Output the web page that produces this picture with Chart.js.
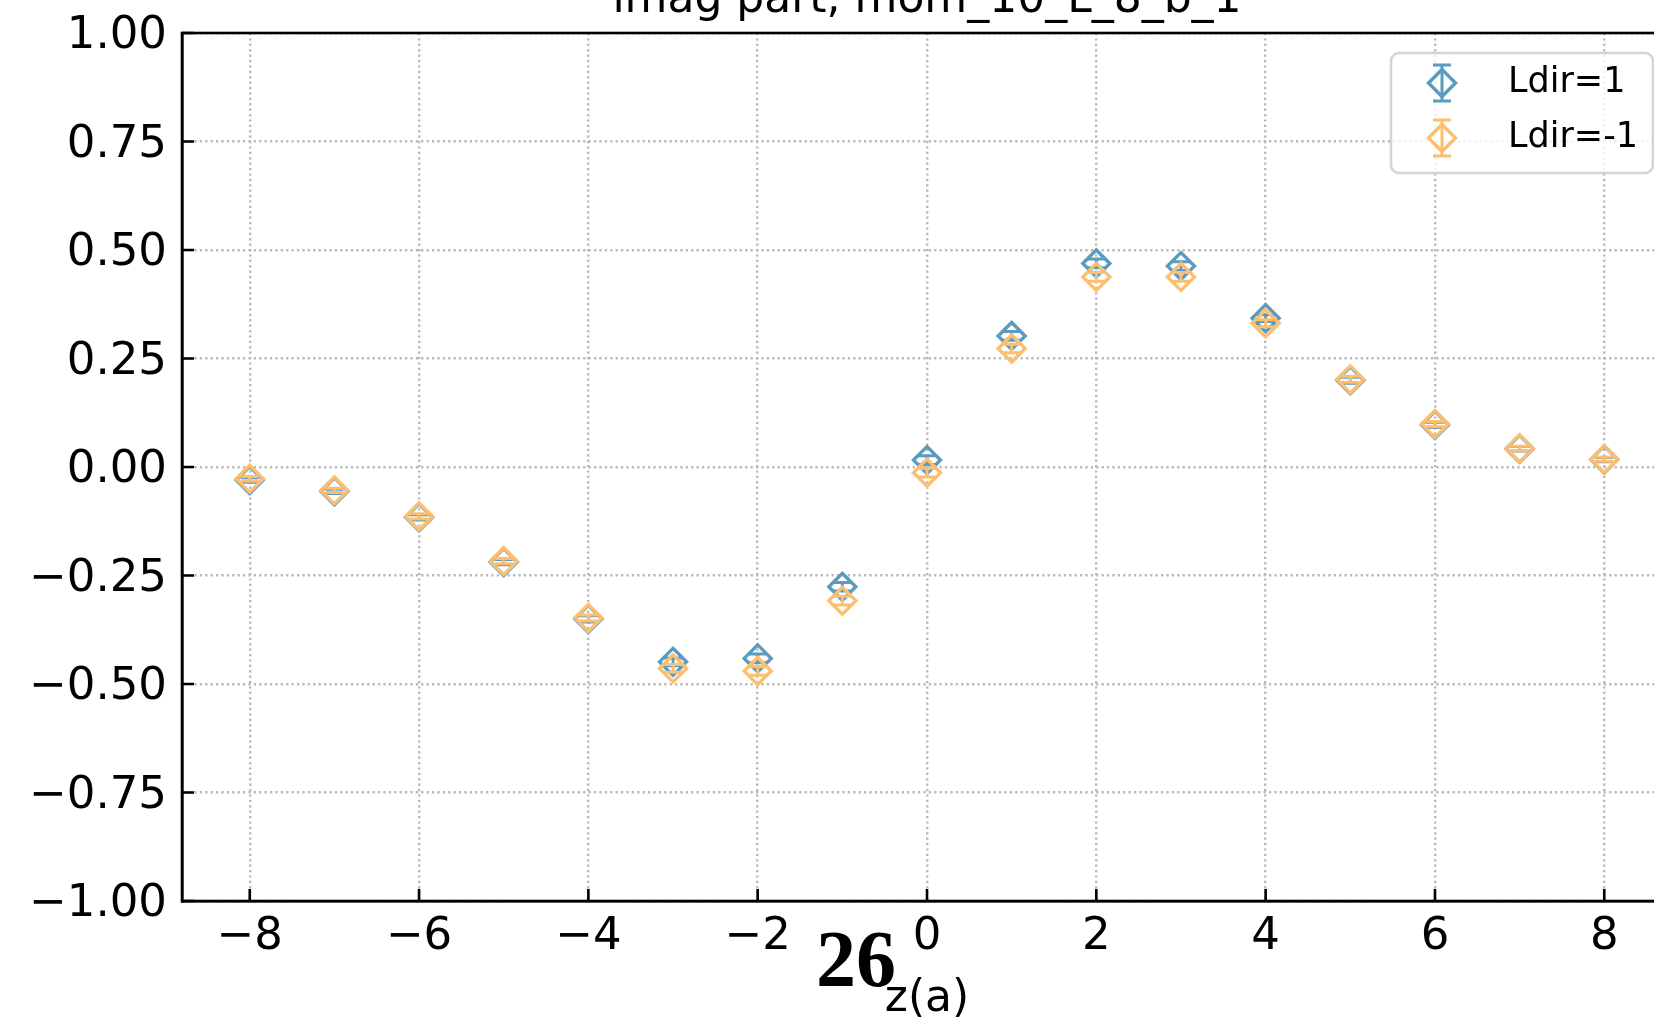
<!DOCTYPE html>
<html>
<head>
<meta charset="utf-8">
<script src="https://cdn.jsdelivr.net/npm/chart.js@4/dist/chart.umd.min.js"></script>
<style>
  html, body { margin: 0; padding: 0; background: #ffffff; overflow: hidden; width: 1654px; height: 1026px; }
  #wrap { position: absolute; left: 0; top: 0; width: 1760px; height: 1026px; }
</style>
</head>
<body>
<div id="wrap"><canvas id="c"></canvas></div>
<script>
// Separation z (lattice units)
const zValues = [-8, -7, -6, -5, -4, -3, -2, -1, 0, 1, 2, 3, 4, 5, 6, 7, 8];

// Imaginary part, Ldir = 1
const ldirPlus = [-0.030, -0.056, -0.116, -0.219, -0.350, -0.449, -0.441, -0.276, 0.016,
                  0.302, 0.469, 0.463, 0.343, 0.200, 0.097, 0.042, 0.017];
const ldirPlusErr = [0.005, 0.005, 0.006, 0.006, 0.007, 0.009, 0.010, 0.010, 0.010,
                     0.010, 0.010, 0.010, 0.008, 0.007, 0.006, 0.005, 0.005];

// Imaginary part, Ldir = -1
const ldirMinus = [-0.027, -0.054, -0.114, -0.217, -0.348, -0.464, -0.470, -0.308, -0.013,
                   0.273, 0.438, 0.438, 0.331, 0.202, 0.099, 0.043, 0.018];
const ldirMinusErr = [0.005, 0.005, 0.006, 0.006, 0.007, 0.009, 0.010, 0.010, 0.010,
                      0.010, 0.010, 0.010, 0.008, 0.007, 0.006, 0.005, 0.005];

const seriesLabels = ['Ldir=1', 'Ldir=-1'];
const seriesColors = ['#5b9bbf', '#fdbf6f'];
const xTickValues = [-8, -6, -4, -2, 0, 2, 4, 6, 8];
const yTickValues = [-1, -0.75, -0.5, -0.25, 0, 0.25, 0.5, 0.75, 1];
const chartTitle = 'imag part, mom_10_L_8_b_1';
const xAxisTitle = 'z(a)';
const pageNumber = '26';

const FONT = 'DejaVu Sans';
const MINUS = '\u2212';
const MARK_R = 13.5;
const MARK_W = 3.4;

function diamond(ctx, x, y, r) {
  ctx.beginPath();
  ctx.moveTo(x - r, y);
  ctx.lineTo(x, y - r);
  ctx.lineTo(x + r, y);
  ctx.lineTo(x, y + r);
  ctx.closePath();
  ctx.stroke();
}

function errorBar(ctx, x, yTop, yBot, cap) {
  ctx.beginPath();
  ctx.moveTo(x, yTop); ctx.lineTo(x, yBot);
  ctx.moveTo(x - cap, yTop); ctx.lineTo(x + cap, yTop);
  ctx.moveTo(x - cap, yBot); ctx.lineTo(x + cap, yBot);
  ctx.stroke();
}

// Vertical error bars with caps, drawn just before each dataset's markers
const errorBarPlugin = {
  id: 'errorBars',
  beforeDatasetDraw(chart, args) {
    const ds = chart.data.datasets[args.index];
    if (!ds.errors) return;
    const { ctx } = chart;
    const xs = chart.scales.x, ys = chart.scales.y;
    ctx.save();
    ctx.strokeStyle = ds.borderColor;
    ctx.lineWidth = 3;
    ds.data.forEach((p, i) => {
      const px = xs.getPixelForValue(p.x);
      errorBar(ctx, px, ys.getPixelForValue(p.y + ds.errors[i]), ys.getPixelForValue(p.y - ds.errors[i]), 9);
    });
    ctx.restore();
  }
};

// Nudge the y tick labels so the digits sit centred on their ticks
const yLabelShiftPlugin = {
  id: 'yLabelShift',
  beforeDraw(chart) {
    const ys = chart.scales.y;
    if (!ys || ys._shifted) return;
    const orig = ys.drawLabels;
    ys.drawLabels = function (area) {
      const ctx = this.ctx;
      ctx.save();
      ctx.translate(0, 3.5);
      orig.call(this, area);
      ctx.restore();
    };
    ys._shifted = true;
  }
};

// Full axes frame and inward-pointing tick marks
const framePlugin = {
  id: 'frame',
  afterDatasetsDraw(chart) {
    const { ctx, chartArea: a } = chart;
    const xs = chart.scales.x, ys = chart.scales.y;
    ctx.save();
    ctx.strokeStyle = '#000';
    ctx.lineWidth = 2.6;
    ctx.strokeRect(a.left, a.top, a.right - a.left, a.bottom - a.top);
    ctx.beginPath();
    xTickValues.forEach(v => {
      const px = xs.getPixelForValue(v);
      ctx.moveTo(px, a.bottom); ctx.lineTo(px, a.bottom - 12);
    });
    yTickValues.forEach(v => {
      const py = ys.getPixelForValue(v);
      ctx.moveTo(a.left, py); ctx.lineTo(a.left + 12, py);
    });
    ctx.stroke();
    ctx.restore();
  }
};

// Title, legend and page number
const decorPlugin = {
  id: 'decor',
  afterDraw(chart) {
    const { ctx, chartArea: a } = chart;
    const xs = chart.scales.x;
    ctx.save();

    // title (centred over the axes)
    ctx.fillStyle = '#000';
    ctx.font = `44px "${FONT}"`;
    ctx.textAlign = 'center';
    ctx.textBaseline = 'alphabetic';
    ctx.fillText(chartTitle, (a.left + a.right) / 2, 12);

    // legend box, upper right
    const bw = 262, bh = 120;
    const bx = a.right - 19 - bw, by = a.top + 20;
    ctx.beginPath();
    ctx.roundRect(bx, by, bw, bh, 8);
    ctx.fillStyle = 'rgba(255,255,255,0.8)';
    ctx.fill();
    ctx.strokeStyle = '#d4d4d4';
    ctx.lineWidth = 2.6;
    ctx.stroke();

    chart.data.datasets.forEach((ds, i) => {
      const cy = by + 30 + i * 55;
      const hx = bx + 51;
      ctx.strokeStyle = ds.borderColor;
      ctx.lineWidth = 3;
      errorBar(ctx, hx, cy - 18, cy + 18, 9);
      ctx.lineWidth = MARK_W;
      diamond(ctx, hx, cy, MARK_R);
      ctx.fillStyle = '#000';
      ctx.font = `35px "${FONT}"`;
      ctx.textAlign = 'left';
      ctx.textBaseline = 'middle';
      ctx.fillText(ds.label, bx + 117, cy);
    });

    // page number
    ctx.fillStyle = '#000';
    ctx.font = 'bold 80px "Liberation Serif"';
    ctx.textAlign = 'left';
    ctx.textBaseline = 'alphabetic';
    ctx.fillText(pageNumber, xs.getPixelForValue(0) - 111, 986);

    ctx.restore();
  }
};

const series = [
  { values: ldirPlus, errors: ldirPlusErr },
  { values: ldirMinus, errors: ldirMinusErr }
];

const datasets = series.map((s, k) => ({
  label: seriesLabels[k],
  data: zValues.map((z, i) => ({ x: z, y: s.values[i] })),
  errors: s.errors,
  borderColor: seriesColors[k],
  backgroundColor: 'rgba(0,0,0,0)',
  pointStyle: 'rectRot',
  pointRadius: MARK_R,
  pointHoverRadius: MARK_R,
  pointBorderWidth: MARK_W,
  showLine: false,
  order: 1 - k
}));

const tickFont = { family: FONT, size: 45 };
const gridOpts = { color: '#b8b8b8', lineWidth: 2.4, drawTicks: false };
const borderOpts = { display: true, color: '#000', width: 2.6, dash: [2.2, 3.2] };

new Chart(document.getElementById('c'), {
  type: 'scatter',
  data: { datasets },
  options: {
    responsive: true,
    maintainAspectRatio: false,
    devicePixelRatio: 1,
    animation: false,
    events: [],
    layout: { padding: { top: 33, right: 88, left: 0, bottom: 0 } },
    plugins: { legend: { display: false }, tooltip: { enabled: false }, title: { display: false } },
    scales: {
      x: {
        type: 'linear',
        min: -8.8,
        max: 8.8,
        afterBuildTicks: s => { s.ticks = xTickValues.map(v => ({ value: v })); },
        afterFit: s => { s.height = 125; s.paddingLeft = 0; s.paddingRight = 0; },
        ticks: {
          font: tickFont, color: '#000', padding: 9, maxRotation: 0, autoSkip: false,
          callback: v => (v < 0 ? MINUS : '') + Math.abs(v)
        },
        grid: gridOpts,
        border: borderOpts,
        title: {
          display: true, text: xAxisTitle, color: '#000',
          font: { family: FONT, size: 44 }, padding: { top: 0, bottom: 0 }
        }
      },
      y: {
        type: 'linear',
        min: -1,
        max: 1,
        afterBuildTicks: s => { s.ticks = yTickValues.map(v => ({ value: v })); },
        afterFit: s => { s.width = 182; s.paddingTop = 0; s.paddingBottom = 0; },
        ticks: {
          font: tickFont, color: '#000', padding: 15,
          callback: v => (v < 0 ? MINUS : '') + Math.abs(v).toFixed(2)
        },
        grid: gridOpts,
        border: borderOpts
      }
    }
  },
  plugins: [yLabelShiftPlugin, errorBarPlugin, framePlugin, decorPlugin]
});
</script>
</body>
</html>
